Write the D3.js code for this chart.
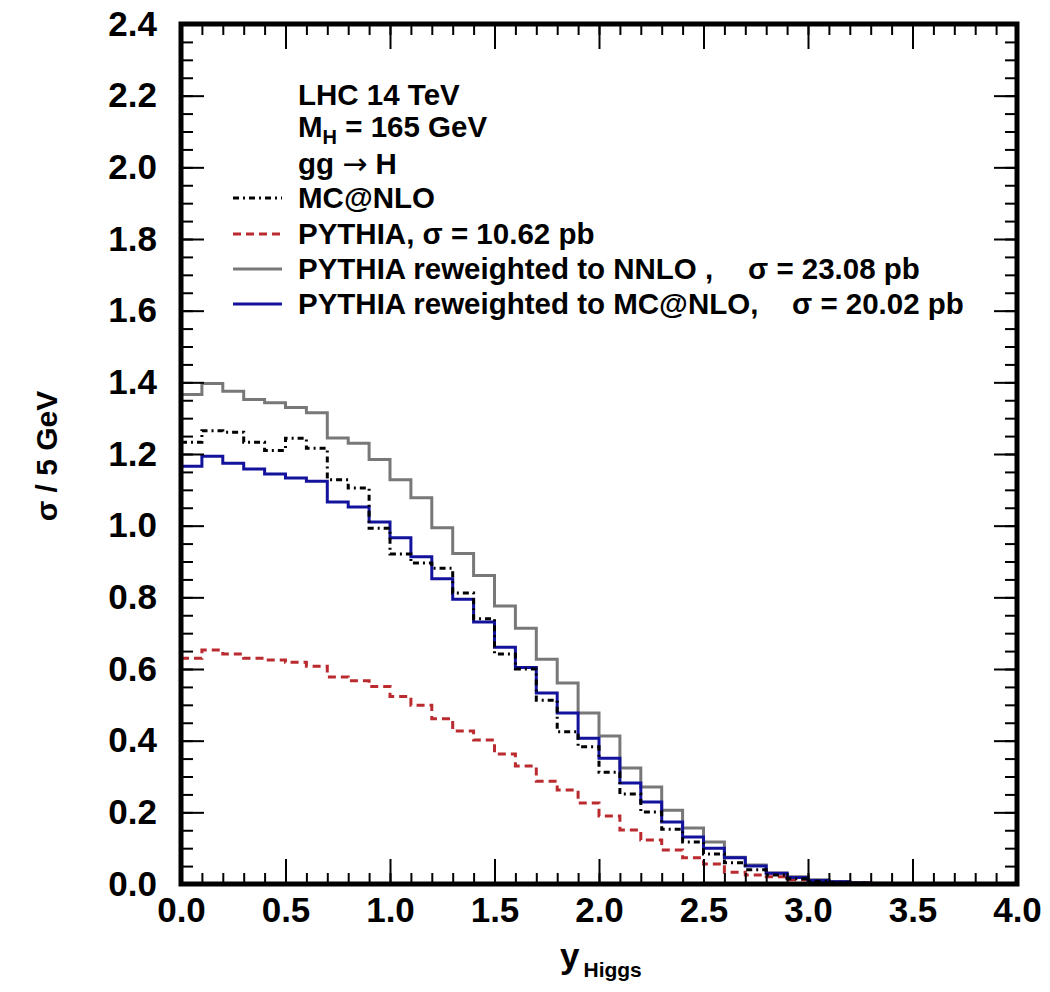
<!DOCTYPE html>
<html>
<head>
<meta charset="utf-8">
<script src="https://cdn.jsdelivr.net/npm/d3@7"></script>
<style>
  body { margin: 0; background: #fff; }
  text { font-family: "Liberation Sans", Arial, sans-serif; font-weight: bold; }
</style>
</head>
<body>
<div id="chart"></div>
<script>
// bins of 0.1 in y_Higgs, starting at 0
const binWidth = 0.1;
const nnlo = [1.366, 1.397, 1.375, 1.352, 1.343, 1.330, 1.315, 1.245, 1.230, 1.185,
  1.128, 1.078, 0.994, 0.922, 0.861, 0.776, 0.714, 0.627, 0.561, 0.477,
  0.413, 0.324, 0.271, 0.206, 0.156, 0.117, 0.075, 0.053, 0.031, 0.020,
  0.012, 0.007, 0.004, 0.002];
const rwMcnlo = [1.166, 1.194, 1.174, 1.158, 1.144, 1.133, 1.124, 1.066, 1.052, 1.010,
  0.966, 0.913, 0.852, 0.795, 0.731, 0.661, 0.604, 0.533, 0.477, 0.407,
  0.351, 0.282, 0.229, 0.173, 0.131, 0.100, 0.073, 0.050, 0.030, 0.018,
  0.010, 0.006, 0.003, 0.001];
const mcnlo = [1.233, 1.265, 1.261, 1.233, 1.210, 1.244, 1.216, 1.128, 1.105, 0.993,
  0.921, 0.896, 0.881, 0.812, 0.740, 0.642, 0.600, 0.513, 0.425, 0.383,
  0.312, 0.251, 0.201, 0.153, 0.117, 0.084, 0.059, 0.040, 0.025, 0.015,
  0.008, 0.004, 0.002, 0.001];
const pythia = [0.630, 0.653, 0.642, 0.630, 0.625, 0.619, 0.608, 0.578, 0.567, 0.551,
  0.523, 0.499, 0.461, 0.427, 0.402, 0.363, 0.329, 0.287, 0.262, 0.226,
  0.190, 0.151, 0.123, 0.095, 0.073, 0.056, 0.033, 0.025, 0.020, 0.012,
  0.008, 0.005, 0.003, 0.001];

const xTicks = ['0.0', '0.5', '1.0', '1.5', '2.0', '2.5', '3.0', '3.5', '4.0'];
const yTicks = ['0.0', '0.2', '0.4', '0.6', '0.8', '1.0', '1.2', '1.4', '1.6', '1.8', '2.0', '2.2', '2.4'];

const width = 1050;
const height = 992;
const margin = { left: 181, right: 1017, top: 24, bottom: 884 };

const svg = d3.select('#chart')
  .append('svg')
  .attr('width', width)
  .attr('height', height);

svg.append('rect').attr('width', width).attr('height', height).attr('fill', '#fff');

const x = d3.scaleLinear().domain([0, 4]).range([margin.left, margin.right]);
const y = d3.scaleLinear().domain([0, 2.4]).range([margin.bottom, margin.top]);

// step histogram from bin contents
const stepLine = d3.line()
  .x((d) => x(d[0]))
  .y((d) => y(d[1]))
  .curve(d3.curveStepAfter);

function steps(values) {
  const pts = values.map((v, i) => [i * binWidth, v]);
  pts.push([values.length * binWidth, values[values.length - 1]]);
  return pts;
}

const series = [
  { values: nnlo, color: '#787878', dash: null, width: 3 },
  { values: pythia, color: '#bb2a2e', dash: '8,5', width: 3 },
  { values: rwMcnlo, color: '#12129c', dash: null, width: 3 },
  { values: mcnlo, color: '#000', dash: '6,4,2,4', width: 3 },
];

const plot = svg.append('g');
series.forEach((s) => {
  plot.append('path')
    .attr('d', stepLine(steps(s.values)))
    .attr('fill', 'none')
    .attr('stroke', s.color)
    .attr('stroke-width', s.width)
    .attr('stroke-dasharray', s.dash);
});

// axes: ticks point inward on all four sides
const xMinor = d3.range(41).map((i) => i / 10);
const xMajor = xTicks.map(Number);
const yMinor = d3.range(49).map((i) => i / 20);
const yMajor = yTicks.map(Number);

function styleAxis(g) {
  g.select('.domain').remove();
  g.selectAll('line').attr('stroke', '#000').attr('stroke-width', 2);
  g.selectAll('text')
    .attr('fill', '#000')
    .style('font-size', '35px')
    .style('font-family', '"Liberation Sans", Arial, sans-serif')
    .style('font-weight', 'bold');
}

svg.append('g').attr('transform', `translate(0,${margin.bottom})`)
  .call(d3.axisBottom(x).tickValues(xMinor).tickSize(-11).tickFormat(''))
  .call(styleAxis);
svg.append('g').attr('transform', `translate(0,${margin.bottom})`)
  .call(d3.axisBottom(x).tickValues(xMajor).tickSize(-25).tickPadding(13)
    .tickFormat((d, i) => xTicks[i]))
  .call(styleAxis);
svg.append('g').attr('transform', `translate(0,${margin.top})`)
  .call(d3.axisTop(x).tickValues(xMinor).tickSize(-11).tickFormat(''))
  .call(styleAxis);
svg.append('g').attr('transform', `translate(0,${margin.top})`)
  .call(d3.axisTop(x).tickValues(xMajor).tickSize(-25).tickFormat(''))
  .call(styleAxis);

svg.append('g').attr('transform', `translate(${margin.left},0)`)
  .call(d3.axisLeft(y).tickValues(yMinor).tickSize(-12).tickFormat(''))
  .call(styleAxis);
svg.append('g').attr('transform', `translate(${margin.left},0)`)
  .call(d3.axisLeft(y).tickValues(yMajor).tickSize(-23).tickPadding(24)
    .tickFormat((d, i) => yTicks[i]))
  .call(styleAxis);
svg.append('g').attr('transform', `translate(${margin.right},0)`)
  .call(d3.axisRight(y).tickValues(yMinor).tickSize(-12).tickFormat(''))
  .call(styleAxis);
svg.append('g').attr('transform', `translate(${margin.right},0)`)
  .call(d3.axisRight(y).tickValues(yMajor).tickSize(-23).tickFormat(''))
  .call(styleAxis);

// frame
svg.append('rect')
  .attr('x', margin.left)
  .attr('y', margin.top)
  .attr('width', margin.right - margin.left)
  .attr('height', margin.bottom - margin.top)
  .attr('fill', 'none')
  .attr('stroke', '#000')
  .attr('stroke-width', 5);

// axis titles
svg.append('text')
  .attr('transform', 'translate(57,456) rotate(-90)')
  .attr('text-anchor', 'middle')
  .style('font-size', '30px')
  .text('\u03c3 / 5 GeV');

const xTitle = svg.append('text')
  .attr('x', 560)
  .attr('y', 968)
  .style('font-size', '35px');
xTitle.append('tspan').text('y');
xTitle.append('tspan').attr('dx', 4).attr('dy', 9).style('font-size', '21px').text('Higgs');

// header text
const textX = 298;
const fs = '29.5px';
svg.append('text').attr('x', textX).attr('y', 105).style('font-size', fs).text('LHC 14 TeV');
const mh = svg.append('text').attr('x', textX).attr('y', 137).style('font-size', fs);
mh.append('tspan').text('M');
mh.append('tspan').attr('dy', 7).style('font-size', '20px').text('H');
mh.append('tspan').attr('dy', -7).text(' = 165 GeV');
const gg = svg.append('text').attr('x', textX).attr('y', 174).style('font-size', fs);
gg.append('tspan').text('gg ');
gg.append('tspan')
  .style('font-family', '"DejaVu Sans", sans-serif')
  .style('font-weight', 'normal')
  .style('font-size', '30px')
  .text('\u2192');
gg.append('tspan').text(' H');

// legend
const legendNames = ['MC@NLO', 'PYTHIA, \u03c3 = 10.62 pb', 'PYTHIA reweighted to NNLO ,', 'PYTHIA reweighted to MC@NLO,'];
const legendSigma = ['', '', '\u03c3 = 23.08 pb', '\u03c3 = 20.02 pb'];
const legendSigmaX = [0, 0, 748, 792];
const legendSeries = [series[3], series[1], series[0], series[2]];
const legendY = [208, 244, 279, 314];

legendNames.forEach((name, i) => {
  const s = legendSeries[i];
  svg.append('line')
    .attr('x1', 233).attr('x2', 282)
    .attr('y1', legendY[i] - 10).attr('y2', legendY[i] - 10)
    .attr('stroke', s.color)
    .attr('stroke-width', s.width)
    .attr('stroke-dasharray', s.dash);
  svg.append('text').attr('x', textX).attr('y', legendY[i]).style('font-size', fs).text(name);
  if (legendSigma[i]) {
    svg.append('text').attr('x', legendSigmaX[i]).attr('y', legendY[i])
      .style('font-size', fs).text(legendSigma[i]);
  }
});
</script>
</body>
</html>
